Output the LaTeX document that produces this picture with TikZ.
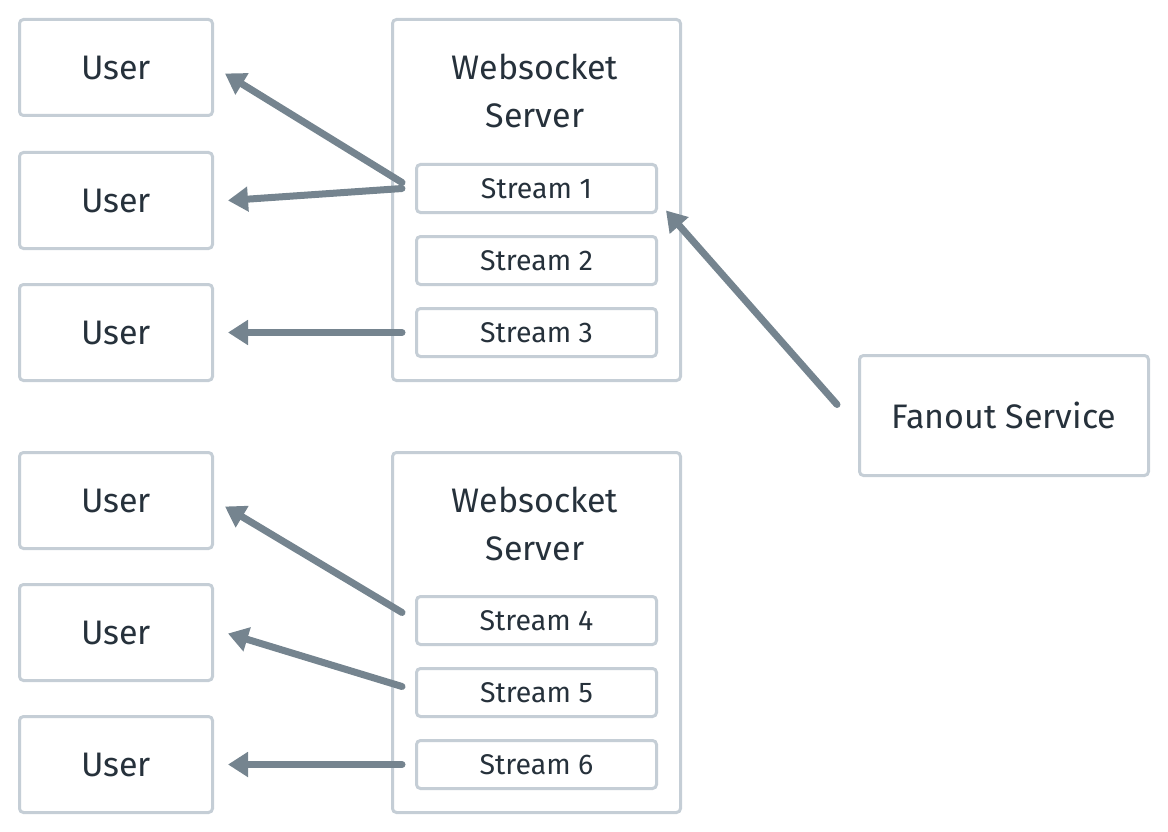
\documentclass[tikz,border=0pt]{standalone}
\usepackage{fontspec}
\setmainfont{Fira Sans}
\usetikzlibrary{arrows.meta,calc}
\definecolor{bordc}{HTML}{C5CED6}
\definecolor{arrc}{HTML}{75848F}
\definecolor{txtc}{HTML}{26313B}
\begin{document}
\begin{tikzpicture}[x=1pt,y=-1pt,
  box/.style={draw=bordc,line width=3pt,rounded corners=4pt,fill=white,text=txtc,inner sep=0pt,anchor=north west},
  flow/.style={draw=arrc,line width=7pt,line cap=round,-{Triangle[length=20pt,width=24pt]}},
  bigtxt/.style={font=\fontsize{34}{48}\selectfont},
  smtxt/.style={font=\fontsize{28.5}{34}\selectfont}]
\useasboundingbox (1,1) rectangle (1169,833);
% users
\foreach \n/\y in {u1/19,u2/152,u3/284,u4/452,u5/584,u6/716}{
  \node[box,bigtxt,minimum width=193pt,minimum height=96pt] (\n) at (19,\y) {User};
}
% servers
\node[box,minimum width=288pt,minimum height=361pt] (ws1) at (392,19) {};
\node[box,minimum width=288pt,minimum height=360pt] (ws2) at (392,452) {};
\node[bigtxt,text=txtc,align=center] (t1) at (536,92) {Websocket\\Server};
\node[bigtxt,text=txtc,align=center] (t2) at (536,525) {Websocket\\Server};
% streams
\foreach \n/\y/\l in {s1/164/1,s2/236/2,s3/308/3,s4/596/4,s5/668/5,s6/740/6}{
  \node[box,smtxt,minimum width=240pt,minimum height=48pt] (\n) at (416,\y) {Stream \l};
}
\node[box,bigtxt,minimum width=289pt,minimum height=120pt] (fo) at (859,355) {Fanout Service};
% arrows
\draw[flow] ($(s1.west)+(-13,-6)$) -- ($(u1.east)+(11,6)$);
\draw[flow] ($(s1.west)+(-13,0)$) -- ($(u2.east)+(14,0)$);
\draw[flow] ($(s3.west)+(-13,0)$) -- ($(u3.east)+(14,0)$);
\draw[flow] ($(s4.west)+(-13,-8)$) -- ($(u4.east)+(11,6)$);
\draw[flow] ($(s5.west)+(-13,-6)$) -- ($(u5.east)+(14,1)$);
\draw[flow] ($(s6.west)+(-13,0)$) -- ($(u6.east)+(14,0)$);
\draw[flow] ($(fo.west)+(-21,-11)$) -- ($(s1.east)+(8,22)$);
\end{tikzpicture}
\end{document}
